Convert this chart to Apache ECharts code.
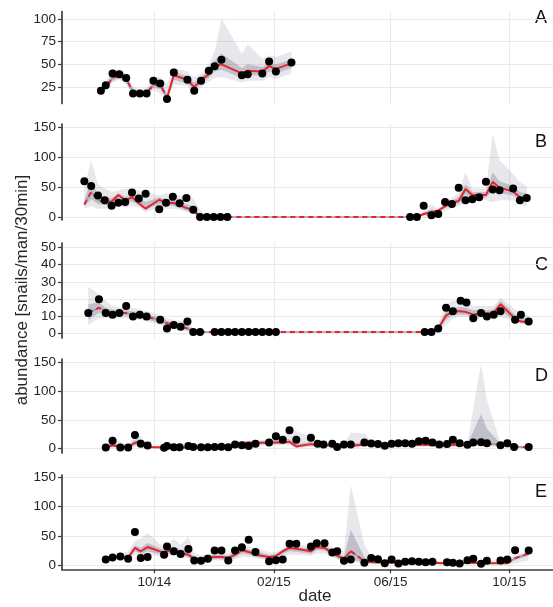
<!DOCTYPE html>
<html>
<head>
<meta charset="utf-8">
<script src="https://cdn.jsdelivr.net/npm/echarts@6/dist/echarts.min.js"></script>
<style>
  html, body { margin: 0; padding: 0; background: #ffffff; }
  #chart { width: 553px; height: 607px; }
</style>
</head>
<body>
<div id="chart"></div>
<script>
// ---- observed abundance, model mean and simulation envelopes, per site ----

// Site A
const datesA = ['2014-08-07','2014-08-12','2014-08-19','2014-08-26','2014-09-02','2014-09-09','2014-09-16','2014-09-23','2014-09-30','2014-10-07','2014-10-14','2014-10-21','2014-11-04','2014-11-11','2014-11-18','2014-11-26','2014-12-02','2014-12-09','2014-12-30','2015-01-05','2015-01-20','2015-01-27','2015-02-03','2015-02-19'];
const obsA   = [21,27,40,39,35,18,18,18,32,29,12,41,33,21,32,43,48,55,38,39,40,53,42,52];
const meanA  = [22,25,35,38,34,20,18,19,27,28,13,38,33,25,33,39,48,50,40,43,42,48,45,51];
const simHiA = [24,30,45,44,40,26,22,24,36,36,28,46,42,36,40,50,64,100,62,72,56,60,58,64];
const simLoA = [18,21,30,33,28,15,14,15,22,18,10,28,26,17,25,31,35,36,30,32,32,36,34,40];
const coreHiA = [23,28,40,41,37,23,20,21,31,32,18,42,37,30,36,44,54,62,46,50,47,52,50,55];
const coreLoA = [20,23,32,35,30,17,16,17,24,23,12,33,29,21,29,35,42,44,35,38,38,42,40,46];

// Site B
const datesB = ['2014-07-21','2014-07-28','2014-08-04','2014-08-11','2014-08-18','2014-08-25','2014-09-01','2014-09-08','2014-09-15','2014-09-22','2014-10-06','2014-10-13','2014-10-20','2014-10-27','2014-11-03','2014-11-10','2014-11-17','2014-11-24','2014-12-01','2014-12-08','2014-12-15','2015-06-21','2015-06-28','2015-07-05','2015-07-13','2015-07-20','2015-07-27','2015-08-03','2015-08-10','2015-08-17','2015-08-24','2015-08-31','2015-09-07','2015-09-14','2015-09-21','2015-10-05','2015-10-12','2015-10-19'];
const obsB   = [60,52,36,28,19,24,25,41,31,39,13,24,34,23,32,12,0,0,0,0,0,0,0,19,3,5,25,22,49,28,30,33,59,46,45,48,28,32];
const meanB  = [21,42,28,25,26,37,28,33,23,14,29,23,24,20,15,12,0,0,0,0,0,0,0,5,8,11,18,24,27,47,37,37,37,59,49,43,33,31];
const simHiB = [50,95,55,48,42,45,48,46,44,42,36,40,38,36,36,31,12,0,0,0,0,0,2,10,22,14,24,32,40,75,48,48,48,140,95,72,58,52];
const simLoB = [14,18,14,14,14,20,16,18,16,8,16,14,14,12,9,5,0,0,0,0,0,0,0,1,3,4,10,15,18,25,25,28,28,25,28,28,20,18];
const coreHiB = [30,60,38,33,32,40,34,38,32,25,33,30,30,26,22,18,3,0,0,0,0,0,0,7,13,10,22,28,33,55,42,42,42,75,60,52,42,40];
const coreLoB = [18,30,22,20,20,28,24,26,20,12,22,19,19,15,11,7,0,0,0,0,0,0,0,3,6,7,15,20,22,38,31,32,32,45,40,36,27,25];

// Site C
const datesC = ['2014-07-25','2014-08-05','2014-08-12','2014-08-19','2014-08-26','2014-09-02','2014-09-09','2014-09-16','2014-09-23','2014-10-07','2014-10-14','2014-10-21','2014-10-28','2014-11-04','2014-11-10','2014-11-17','2014-12-02','2014-12-09','2014-12-16','2014-12-23','2014-12-30','2015-01-06','2015-01-13','2015-01-20','2015-01-27','2015-02-03','2015-07-06','2015-07-13','2015-07-20','2015-07-28','2015-08-04','2015-08-12','2015-08-18','2015-08-25','2015-09-02','2015-09-08','2015-09-15','2015-09-22','2015-10-07','2015-10-13','2015-10-21'];
const obsC   = [12,20,12,11,12,16,10,11,10,8,3,5,4,7,1,1,1,1,1,1,1,1,1,1,1,1,1,1,3,15,13,19,18,9,12,10,11,13,8,11,7];
const meanC  = [12,15,13,12,12,12,11,10.5,9.5,8,6,5,4,3,1,1,1,1,1,1,1,1,1,1,1,1,1,1,3,10.5,13,13,12.5,11,12,11.5,12,17,8.7,7,6.7];
const simHiC = [27,23,19,16,15,15,15,14,13,11,9,8,7,8,3,2,1,1,1,1,1,1,1,1,1,1,1,2,6,17,19,19,18,16,16,16,16,21,14,13,10];
const simLoC = [5,9,9,9,9,9,8,8,7,5,3,2.5,2,1,0.5,0.5,1,1,1,1,1,1,1,1,1,1,1,0.5,1,5,9,10,10,8,9,9,9,10,7,6,5];
const coreHiC = [17,18,15,14,13.5,13.5,13,12,11,9.5,7.5,6.5,5.5,5,2,1.5,1,1,1,1,1,1,1,1,1,1,1,1.5,4.5,13,15,15.5,15,13.5,14,13.5,14,19,11,9.5,8.5];
const coreLoC = [8,12,11,10.5,10.5,10.5,9.5,9,8,6.5,4.5,3.5,3,2,0.8,0.8,1,1,1,1,1,1,1,1,1,1,1,0.8,2,8,11,11,11,9,10.5,10,10.5,13,7.5,6,5.5];

// Site D
const datesD = ['2014-08-12','2014-08-19','2014-08-27','2014-09-04','2014-09-11','2014-09-17','2014-09-24','2014-10-11','2014-10-14','2014-10-21','2014-10-27','2014-11-05','2014-11-10','2014-11-18','2014-11-25','2014-12-02','2014-12-09','2014-12-16','2014-12-23','2014-12-30','2015-01-06','2015-01-13','2015-01-27','2015-02-03','2015-02-10','2015-02-17','2015-02-24','2015-03-11','2015-03-18','2015-03-24','2015-04-02','2015-04-07','2015-04-14','2015-04-21','2015-05-05','2015-05-12','2015-05-19','2015-05-26','2015-06-02','2015-06-09','2015-06-16','2015-06-23','2015-06-30','2015-07-07','2015-07-14','2015-07-21','2015-07-29','2015-08-04','2015-08-11','2015-08-19','2015-08-25','2015-09-02','2015-09-08','2015-09-22','2015-09-29','2015-10-06','2015-10-21'];
const obsD   = [2,14,2,2,24,8.5,5.7,1.7,4.6,2.5,2.5,4.5,3,2.5,2.5,3,3.5,2.5,7.4,6.2,4.5,8.5,10.8,21.7,15.4,32,15.4,19,8.5,7.4,8.5,2.9,7.4,7.4,10.8,9,8,5.1,8.5,9.7,9.7,8.5,13,14,10.8,7.4,8,15.4,9.7,6.8,10.8,11.4,9.7,6.2,9.7,2.9,2.9];
const meanD  = [2,6,3,3,10,13,3,2,2,2,2,2,2,2,2,2,2,2,4,9,11,10,11,11,11,12,4,8,6,6,6,5,5,5,7,7,6,5,6,6,7,6,7,7,7,5,5,7,7,6,9,11,9,7,6,4,2];
const simHiD = [3,24,12,5,27,22,6,3,6,4,8,6,4,4,4,5,5,4,12,14,12,14,16,25,20,33,31,20,12,10,10,8,9,28,27,12,10,8,10,11,11,10,15,16,13,10,10,18,12,10,70,148,85,10,12,6,4];
const simLoD = [0,2,1,1,3,5,1,0,0,0,0,0,0,0,0,0,0,0,1,4,6,5,6,6,6,6,1,3,2,2,2,1,1,1,3,3,2,1,2,2,3,2,3,3,3,1,1,3,3,2,4,5,4,3,2,1,0];
const coreHiD = [3,12,6,4,16,17,5,3,3,3,3,3,3,3,3,3,3,3,7,12,14,13,14,15,15,17,8,12,9,8,8,7,7,10,11,9,8,7,8,8,9,8,10,10,10,7,7,11,9,8,30,60,35,9,8,5,3];
const coreLoD = [1,3,2,2,6,9,2,1,1,1,1,1,1,1,1,1,1,1,2,6,8,7,8,8,8,9,2,5,4,4,4,3,3,3,5,5,4,3,4,4,5,4,5,5,5,3,3,5,5,4,6,8,6,5,4,2,1];

// Site E
const datesE = ['2014-08-12','2014-08-19','2014-08-27','2014-09-04','2014-09-11','2014-09-17','2014-09-24','2014-10-11','2014-10-14','2014-10-21','2014-10-28','2014-11-05','2014-11-11','2014-11-18','2014-11-25','2014-12-02','2014-12-09','2014-12-16','2014-12-23','2014-12-30','2015-01-06','2015-01-13','2015-01-27','2015-02-03','2015-02-10','2015-02-17','2015-02-24','2015-03-11','2015-03-17','2015-03-25','2015-04-02','2015-04-07','2015-04-14','2015-04-21','2015-05-05','2015-05-12','2015-05-19','2015-05-26','2015-06-02','2015-06-09','2015-06-16','2015-06-23','2015-06-30','2015-07-07','2015-07-14','2015-07-29','2015-08-04','2015-08-11','2015-08-19','2015-08-25','2015-09-02','2015-09-08','2015-09-22','2015-09-29','2015-10-07','2015-10-21'];
const obsE   = [9.7,13,14.8,10.8,56.7,12.5,14.2,18,32,23.8,19.2,27.8,8,7.4,10.8,25,25,8,25,30.5,43.6,22.7,6.8,8.5,9.7,36.8,36.8,32,37.3,37.3,21.5,23.8,7.4,9.7,4,12.5,10.2,3.4,9.7,2.9,5.7,6.8,5.7,5.1,5.7,5.1,4,2.9,8.5,10.8,2.3,7.4,8,9.7,25.5,25];
const meanE  = [10,13,14,13,29.5,23.8,31,21,23.8,26,21,18,10,10,12.5,14,14,12.5,18,25.5,22.7,18,14,15.5,23.8,29.5,28,23.8,31,29.5,21,16.5,10.8,24,6.8,5,5,4,5,4,4,4,4,4,4,3,3,3,4,4,3.4,3.4,3.4,3.4,12,20];
const simHiE = [12,16,20,24,42,45,55,30,36,45,35,48,22,16,20,22,24,20,30,36,32,30,22,22,28,36,36,32,40,40,30,30,24,137,35,15,12,8,10,8,8,8,8,8,8,6,6,6,8,8,6,8,8,10,18,24];
const simLoE = [8,10,11,9,18,14,18,14,15,16,14,12,6,6,8,8,8,6,10,14,14,12,8,9,14,18,18,16,20,20,14,10,4,6,3,2,2,1,2,1,1,1,1,1,1,1,1,1,1,1,1,1,1,1,3,8];
const coreHiE = [11,14,16,16,34,30,38,26,28,32,27,26,14,13,16,18,18,16,23,30,27,24,18,19,27,33,32,28,35,34,26,22,15,60,14,8,7,6,7,6,6,6,6,6,6,5,5,5,6,6,5,5,5,6,14,22];
const coreLoE = [9,11,12,10,24,19,24,17,19,20,17,14,7,7,9,10,10,9,13,20,18,14,10,12,19,24,23,19,26,25,17,12,6,10,4,3,3,2,3,2,2,2,2,2,2,2,2,2,2,2,2,2,2,2,9,16];

// stretches of the mean line drawn broken (index ranges, inclusive)
const brokenA = [[0, 10]];
const brokenB = [[0, 4], [20, 22]];
const brokenC = [[0, 28]];
const brokenD = [[52, 56]];
const brokenE = [[33, 35], [53, 55]];

const panelLetters = ['A', 'B', 'C', 'D', 'E'];
const yTicksA = [25, 50, 75, 100];
const yTicksB = [0, 50, 100, 150];
const yTicksC = [0, 10, 20, 30, 40, 50];
const yTicksD = [0, 50, 100, 150];
const yTicksE = [0, 50, 100, 150];

const xTickDates = ['2014-10-01', '2015-02-01', '2015-06-01', '2015-10-01'];
const xTickLabels = ['10/14', '02/15', '06/15', '10/15'];
const xRange = ['2014-06-28', '2015-11-15'];

const yAxisTitle = 'abundance [snails/man/30min]';
const xAxisTitle = 'date';

// ---- helpers ----
function ts(s) {
  const p = s.split('-').map(Number);
  return Date.UTC(p[0], p[1] - 1, p[2]);
}

const panels = [
  { dates: datesA, obs: obsA, mean: meanA, hi: simHiA, lo: simLoA, cHi: coreHiA, cLo: coreLoA, broken: brokenA, ticks: yTicksA },
  { dates: datesB, obs: obsB, mean: meanB, hi: simHiB, lo: simLoB, cHi: coreHiB, cLo: coreLoB, broken: brokenB, ticks: yTicksB },
  { dates: datesC, obs: obsC, mean: meanC, hi: simHiC, lo: simLoC, cHi: coreHiC, cLo: coreLoC, broken: brokenC, ticks: yTicksC },
  { dates: datesD, obs: obsD, mean: meanD, hi: simHiD, lo: simLoD, cHi: coreHiD, cLo: coreLoD, broken: brokenD, ticks: yTicksD },
  { dates: datesE, obs: obsE, mean: meanE, hi: simHiE, lo: simLoE, cHi: coreHiE, cLo: coreLoE, broken: brokenE, ticks: yTicksE }
];

// panel geometry (px) and value ranges
const layout = [
  { top: 11.5, height: 92,   min: 7,    max: 108 },
  { top: 124,  height: 96,   min: -5,   max: 156 },
  { top: 243,  height: 95,   min: -2.5, max: 52.5 },
  { top: 359,  height: 94,   min: -7.5, max: 156.5 },
  { top: 475,  height: 94.3, min: -7,   max: 154 }
];
const letterY = [19, 143.5, 266, 377, 493];

const FONT = '"Liberation Sans", Arial, Helvetica, sans-serif';
const TEXT = '#262626';
const AXIS = '#3d3d3d';
const GRID = '#e9e9e9';
const RED = '#e8232b';
const SIM_OUTER = 'rgba(128,128,152,0.18)';
const SIM_CORE = 'rgba(110,110,134,0.32)';
const SIM_LINE = 'rgba(150,150,168,0.95)';

const xTickValues = xTickDates.map(ts);

function stretches(n, broken) {
  const out = [];
  let pos = 0;
  broken.forEach(([a, b]) => {
    if (a > pos) out.push({ from: pos, to: a, broken: false });
    out.push({ from: a, to: b, broken: true });
    pos = b;
  });
  if (pos < n - 1) out.push({ from: pos, to: n - 1, broken: false });
  return out;
}

// envelope polygon between a lower and an upper series, placed through the grid's scales
function bandSeries(i, xs, lo, hi, color) {
  return {
    type: 'custom', xAxisIndex: i, yAxisIndex: i, silent: true, z: 1, clip: true,
    data: [[xs[0], lo[0]]],
    renderItem: (params, api) => {
      const pts = [];
      for (let k = 0; k < xs.length; k++) pts.push(api.coord([xs[k], hi[k]]));
      for (let k = xs.length - 1; k >= 0; k--) pts.push(api.coord([xs[k], lo[k]]));
      return { type: 'polygon', shape: { points: pts }, style: { fill: color, stroke: null } };
    }
  };
}

const grids = [], xAxes = [], yAxes = [], series = [];

panels.forEach((p, i) => {
  const L = layout[i];
  const last = i === panels.length - 1;
  grids.push({ left: 62, width: 506, top: L.top, height: L.height, containLabel: false });

  xAxes.push({
    type: 'value', gridIndex: i,
    min: ts(xRange[0]), max: ts(xRange[1]),
    axisLine: { show: last, onZero: false, lineStyle: { color: AXIS, width: 1.7 } },
    axisTick: { show: last, length: 4, customValues: xTickValues, lineStyle: { color: AXIS, width: 1.2 } },
    axisLabel: {
      show: last, customValues: xTickValues, margin: 6,
      fontFamily: FONT, fontSize: 13.5, color: TEXT,
      formatter: v => xTickLabels[xTickValues.indexOf(v)] || ''
    },
    splitLine: { show: true, lineStyle: { color: GRID, width: 1.1 } }
  });

  yAxes.push({
    type: 'value', gridIndex: i, min: L.min, max: L.max,
    axisLine: { show: true, onZero: false, lineStyle: { color: AXIS, width: 1.7 } },
    axisTick: { show: true, length: 4, customValues: p.ticks, lineStyle: { color: AXIS, width: 1.2 } },
    axisLabel: { customValues: p.ticks, margin: 6, fontFamily: FONT, fontSize: 13.5, color: TEXT },
    splitLine: { show: true, lineStyle: { color: GRID, width: 1.1 } }
  });

  const xs = p.dates.map(ts);
  series.push(bandSeries(i, xs, p.lo, p.hi, SIM_OUTER));
  series.push(bandSeries(i, xs, p.cLo, p.cHi, SIM_CORE));

  stretches(xs.length, p.broken).forEach(s => {
    const seg = [];
    for (let k = s.from; k <= s.to; k++) seg.push([xs[k], p.mean[k]]);
    if (s.broken) {
      series.push({
        type: 'line', xAxisIndex: i, yAxisIndex: i, symbol: 'none', silent: true, z: 2,
        lineStyle: { color: SIM_LINE, width: 1.5 }, data: seg
      });
    }
    series.push({
      type: 'line', xAxisIndex: i, yAxisIndex: i, symbol: 'none', silent: true, z: 3,
      lineStyle: { color: RED, width: 2, type: s.broken ? [5, 4] : 'solid', cap: 'butt' },
      data: seg
    });
  });

  series.push({
    type: 'scatter', xAxisIndex: i, yAxisIndex: i, symbol: 'circle', symbolSize: 8,
    z: 4, silent: true, itemStyle: { color: '#000000', opacity: 1 },
    data: xs.map((x, k) => [x, p.obs[k]])
  });
});

const graphics = panelLetters.map((t, i) => ({
  type: 'text', left: 535, top: letterY[i] - 10,
  style: { text: t, fontFamily: FONT, fontSize: 18, fill: '#111111' }
}));
graphics.push({
  type: 'text', x: 22, y: 290, rotation: Math.PI / 2,
  style: { text: yAxisTitle, fontFamily: FONT, fontSize: 17, fill: TEXT, align: 'center', verticalAlign: 'middle' }
});
graphics.push({
  type: 'text', x: 315, y: 596,
  style: { text: xAxisTitle, fontFamily: FONT, fontSize: 17, fill: TEXT, align: 'center', verticalAlign: 'middle' }
});

const chart = echarts.init(document.getElementById('chart'), null, { renderer: 'canvas' });
chart.setOption({
  animation: false,
  backgroundColor: '#ffffff',
  grid: grids,
  xAxis: xAxes,
  yAxis: yAxes,
  series: series,
  graphic: graphics
});
</script>
</body>
</html>
